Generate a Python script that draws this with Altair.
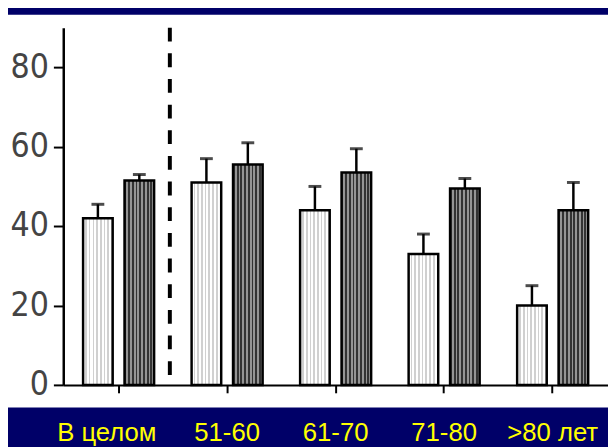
import altair as alt
import pandas as pd

groups = ["В целом", "51-60", "61-70", "71-80", ">80 лет"]
series = ["Группа 1", "Группа 2"]
light_values = [42, 51, 44, 33, 20]
light_upper = [45.5, 57, 50, 38, 25]
dark_values = [51.5, 55.5, 53.5, 49.5, 44]
dark_upper = [53, 61, 59.5, 52, 51]
y_ticks = [0, 20, 40, 60, 80]

rows = []
for g, v, u in zip(groups, light_values, light_upper):
    rows.append({"group": g, "series": series[0], "value": v, "upper": u})
for g, v, u in zip(groups, dark_values, dark_upper):
    rows.append({"group": g, "series": series[1], "value": v, "upper": u})
df = pd.DataFrame(rows)

W, H = 552, 362


def stripes(c1, c2, n=8, frac=0.5):
    stops = []
    for k in range(n):
        a = k / n
        b = (k + frac) / n
        c = (k + 1) / n
        stops += [
            alt.GradientStop(color=c1, offset=a),
            alt.GradientStop(color=c1, offset=b),
            alt.GradientStop(color=c2, offset=b),
            alt.GradientStop(color=c2, offset=c),
        ]
    return alt.Gradient(gradient="linear", stops=stops, x1=0, x2=1, y1=0, y2=0)


x_enc = alt.X(
    "group:N",
    sort=groups,
    scale=alt.Scale(domain=groups, paddingInner=0, paddingOuter=0.01),
    axis=alt.Axis(
        title=None,
        labelAngle=0,
        labelColor="#ffff00",
        labelFont="Liberation Sans",
        labelFontSize=26,
        labelPadding=40,
        labelBaseline="middle",
        labelOffset={"condition": {"test": "datum.value == 'В целом'", "value": -12}, "value": 0},
        domainColor="black",
        domainWidth=2,
        tickColor="black",
        tickWidth=2,
        tickSize=8,
        zindex=1,
    ),
)
xo_enc = alt.XOffset(
    "series:N",
    sort=series,
    scale=alt.Scale(domain=series, paddingInner=0.2857, paddingOuter=0.4524),
)
y_enc = alt.Y(
    "value:Q",
    scale=alt.Scale(domain=[0, 90], nice=False),
    axis=alt.Axis(
        title=None,
        values=y_ticks,
        grid=False,
        labelColor="#444444",
        labelFont="DejaVu Sans Condensed, Liberation Sans Narrow, sans-serif",
        labelFontSize=34,
        labelPadding=5,
        domainColor="black",
        domainWidth=2.5,
        tickColor="black",
        tickWidth=2,
        tickSize=10,
        zindex=1,
    ),
)

panel = alt.Chart(pd.DataFrame({"k": [0]})).mark_rect(color="white").encode(
    x=alt.value(-56), x2=alt.value(W + 10), y=alt.value(-13), y2=alt.value(385)
)

light_bars = (
    alt.Chart(df)
    .transform_filter(alt.datum.series == series[0])
    .mark_bar(fill=stripes("#ffffff", "#d0d0d0", 8, 0.55), stroke="black", strokeWidth=2.5)
    .encode(x=x_enc, xOffset=xo_enc, y=y_enc)
)
dark_bars = (
    alt.Chart(df)
    .transform_filter(alt.datum.series == series[1])
    .mark_bar(fill=stripes("#333333", "#959595", 8, 0.5), stroke="black", strokeWidth=2.5)
    .encode(x=x_enc, xOffset=xo_enc, y=y_enc)
)

stems = alt.Chart(df).mark_rule(color="black", strokeWidth=2.5).encode(
    x=x_enc, xOffset=xo_enc, y=y_enc, y2="upper:Q"
)
caps = alt.Chart(df).mark_tick(color="black", thickness=3, size=13).encode(
    x=x_enc, xOffset=xo_enc, y=alt.Y("upper:Q")
)

divider = alt.Chart(pd.DataFrame({"k": [0]})).mark_rule(
    color="black", strokeWidth=4, strokeDash=[14, 12]
).encode(x=alt.value(108), y=alt.value(0), y2=alt.value(H - 2))

chart = (
    alt.layer(panel, stems, caps, light_bars, dark_bars, divider)
    .properties(
        width=W,
        height=H,
        autosize=alt.AutoSizeParams(type="none"),
        padding={"left": 56, "top": 17, "right": 0, "bottom": 60},
        background="#000068",
    )
    .configure_view(strokeWidth=0)
)

chart.save("out.html", embed_options={"renderer": "svg", "actions": False})
